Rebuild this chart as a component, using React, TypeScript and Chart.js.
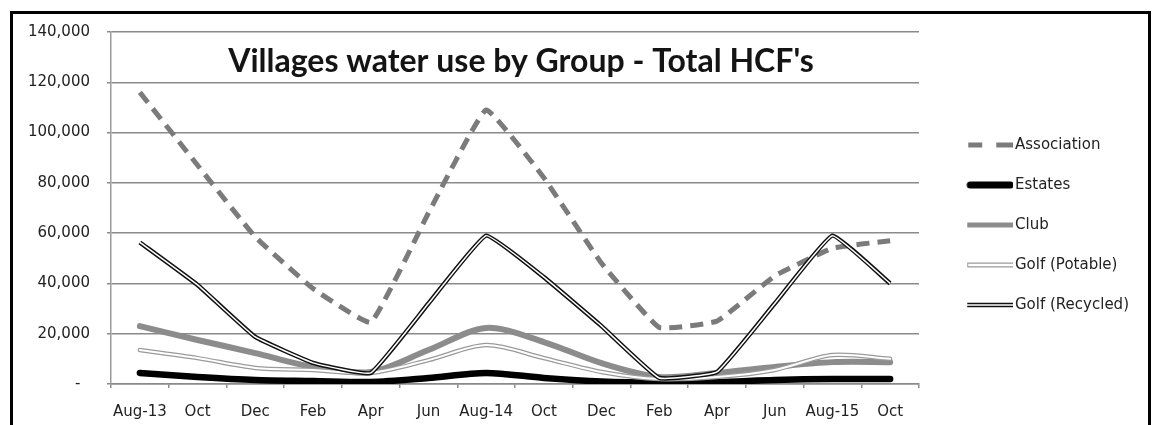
import React, { useEffect, useRef } from 'react';
import { Chart, registerables } from 'chart.js';

Chart.register(...registerables);

// ---- data ----
const categories = ['Aug-13', 'Oct', 'Dec', 'Feb', 'Apr', 'Jun', 'Aug-14', 'Oct', 'Dec', 'Feb', 'Apr', 'Jun', 'Aug-15', 'Oct'];
const association = [116000, 87000, 58500, 38000, 24500, 68000, 109000, 82000, 48000, 22500, 25000, 43000, 54000, 57000];
const estates = [4400, 2800, 1600, 1200, 800, 2400, 4400, 2400, 1000, 600, 800, 1600, 2000, 2000];
const club = [23000, 17500, 12300, 6800, 4800, 13500, 22300, 16700, 8300, 2800, 4400, 6800, 8700, 8700];
const golfPotable = [13500, 10300, 6400, 5600, 4400, 9500, 15500, 10300, 4800, 2000, 2800, 5600, 11500, 10000];
const golfRecycled = [56300, 39400, 18700, 8400, 4400, 32000, 59000, 42500, 23000, 2400, 4800, 32000, 59000, 40000];
const seriesNames = ['Association', 'Estates', 'Club', 'Golf (Potable)', 'Golf (Recycled)'];
const yMin = 0;
const yMax = 140000;
const yStep = 20000;
const chartTitle = "Villages water use by Group - Total HCF's";

const FONT = 'DejaVu Sans';

function makeSample(kind: string): HTMLCanvasElement {
  const c = document.createElement('canvas');
  c.width = 75;
  c.height = 12;
  const g = c.getContext('2d')!;
  const y = 6;
  const line = (x0: number, x1: number, w: number, col: string, cap: CanvasLineCap = 'butt') => {
    g.beginPath();
    g.lineCap = cap;
    g.strokeStyle = col;
    g.lineWidth = w;
    g.moveTo(x0, y);
    g.lineTo(x1, y);
    g.stroke();
  };
  if (kind === 'association') {
    line(30, 44, 5, '#7b7b7b');
    line(58, 75, 5, '#7b7b7b');
  } else if (kind === 'estates') {
    line(32, 72, 7, '#000', 'round');
  } else if (kind === 'club') {
    line(29, 75, 5, '#8c8c8c');
  } else if (kind === 'potable') {
    line(29, 75, 5, '#9a9a9a');
    line(30, 75, 2.5, '#ffffff');
  } else {
    line(29, 75, 4.5, '#111');
    line(29, 75, 1.5, '#ffffff');
  }
  return c;
}

const titlePlugin = {
  id: 'titleInArea',
  afterDatasetsDraw(chart: any) {
    const { ctx, chartArea } = chart;
    ctx.save();
    ctx.font = 'bold 32px Lato';
    ctx.fillStyle = '#141414';
    ctx.textAlign = 'center';
    ctx.textBaseline = 'alphabetic';
    ctx.fillText(chartTitle, (chartArea.left + chartArea.right) / 2 + 6, chartArea.top + 40);
    ctx.restore();
  },
};

export default function App() {
  const ref = useRef<HTMLCanvasElement>(null);

  useEffect(() => {
    const canvas = ref.current!;
    const samples = [
      makeSample('association'),
      makeSample('estates'),
      makeSample('club'),
      makeSample('potable'),
      makeSample('recycled'),
    ];
    const common = { pointRadius: 0, pointHoverRadius: 0, fill: false };
    const chart = new Chart(canvas, {
      type: 'line',
      data: {
        labels: categories,
        datasets: [
          { ...common, label: seriesNames[0], data: association, borderColor: '#7b7b7b', borderWidth: 5, borderDash: [13, 8], tension: 0.1, order: 2 },
          { ...common, label: seriesNames[1], data: estates, borderColor: '#000000', borderWidth: 6.5, borderCapStyle: 'round', borderJoinStyle: 'round', tension: 0.3, order: 6 },
          { ...common, label: seriesNames[2], data: club, borderColor: '#8c8c8c', borderWidth: 6, borderCapStyle: 'round', borderJoinStyle: 'round', tension: 0.3, order: 5 },
          { ...common, label: seriesNames[3], data: golfPotable, borderColor: '#9a9a9a', borderWidth: 4.5, borderCapStyle: 'round', borderJoinStyle: 'round', tension: 0.3, order: 4 },
          { ...common, label: seriesNames[3] + ' inner', data: golfPotable, borderColor: '#ffffff', borderWidth: 2, borderCapStyle: 'round', borderJoinStyle: 'round', tension: 0.3, order: 3 },
          { ...common, label: seriesNames[4], data: golfRecycled, borderColor: '#111111', borderWidth: 4.5, borderJoinStyle: 'round', tension: 0.1, order: 1 },
          { ...common, label: seriesNames[4] + ' inner', data: golfRecycled, borderColor: '#ffffff', borderWidth: 1.5, borderJoinStyle: 'round', tension: 0.1, order: 0 },
        ] as any,
      },
      options: {
        responsive: false,
        maintainAspectRatio: false,
        devicePixelRatio: 1,
        animation: false,
        events: [],
        layout: { padding: { left: 11, top: 25, right: 0, bottom: 0 } },
        scales: {
          x: {
            type: 'category',
            offset: true,
            grid: { display: true, drawOnChartArea: false, drawTicks: true, tickLength: 4, color: '#8a8a8a', lineWidth: 1.5, offset: true },
            border: { display: true, color: '#8a8a8a', width: 1.5 },
            ticks: { color: '#222', font: { family: FONT, size: 15 }, padding: 15, maxRotation: 0, autoSkip: false },
            afterFit: (s: any) => { s.height = 41; },
          },
          y: {
            min: yMin,
            max: yMax,
            ticks: {
              stepSize: yStep,
              padding: 17,
              color: '#222',
              font: { family: FONT, size: 15 },
              callback: (v: any) => (Number(v) === 0 ? '-  ' : Number(v).toLocaleString('en-US')),
            },
            grid: { color: '#8a8a8a', lineWidth: 1.5, tickLength: 4, drawTicks: true },
            border: { display: true, color: '#9a9a9a', width: 1.5 },
            afterFit: (s: any) => { s.width = 100; },
          },
        },
        plugins: {
          // invisible spacer box on top so the plot area starts where the reference's does
          title: { display: true, text: ' ', font: { size: 5 }, padding: { top: 0, bottom: 1 } },
          tooltip: { enabled: false },
          legend: {
            display: true,
            position: 'right',
            align: 'center',
            labels: {
              usePointStyle: true,
              pointStyleWidth: 63.5,
              padding: 25,
              color: '#222',
              font: { family: FONT, size: 15 },
              generateLabels: () =>
                seriesNames.map((n, i) => ({
                  text: n,
                  pointStyle: samples[i],
                  fillStyle: 'transparent',
                  strokeStyle: 'transparent',
                  lineWidth: 0,
                  hidden: false,
                  datasetIndex: i,
                  fontColor: '#222',
                })),
            },
          },
        },
      } as any,
      plugins: [titlePlugin],
    });

    const lw = chart.legend ? chart.legend.width : 0;
    (chart.options.layout as any).padding.right = Math.max(0, 1161 - 919 - lw);
    chart.update();

    return () => chart.destroy();
  }, []);

  return (
    <div style={{ position: 'absolute', left: 0, top: 0, width: 1161, height: 425, overflow: 'hidden', background: '#fff' }}>
      <canvas ref={ref} width={1161} height={425} style={{ position: 'absolute', left: 0, top: 0, width: 1161, height: 425 }} />
      <div
        style={{
          position: 'absolute',
          left: 10,
          top: 11,
          width: 1141,
          height: 440,
          border: '3px solid #000',
          boxSizing: 'border-box',
          pointerEvents: 'none',
        }}
      />
    </div>
  );
}
